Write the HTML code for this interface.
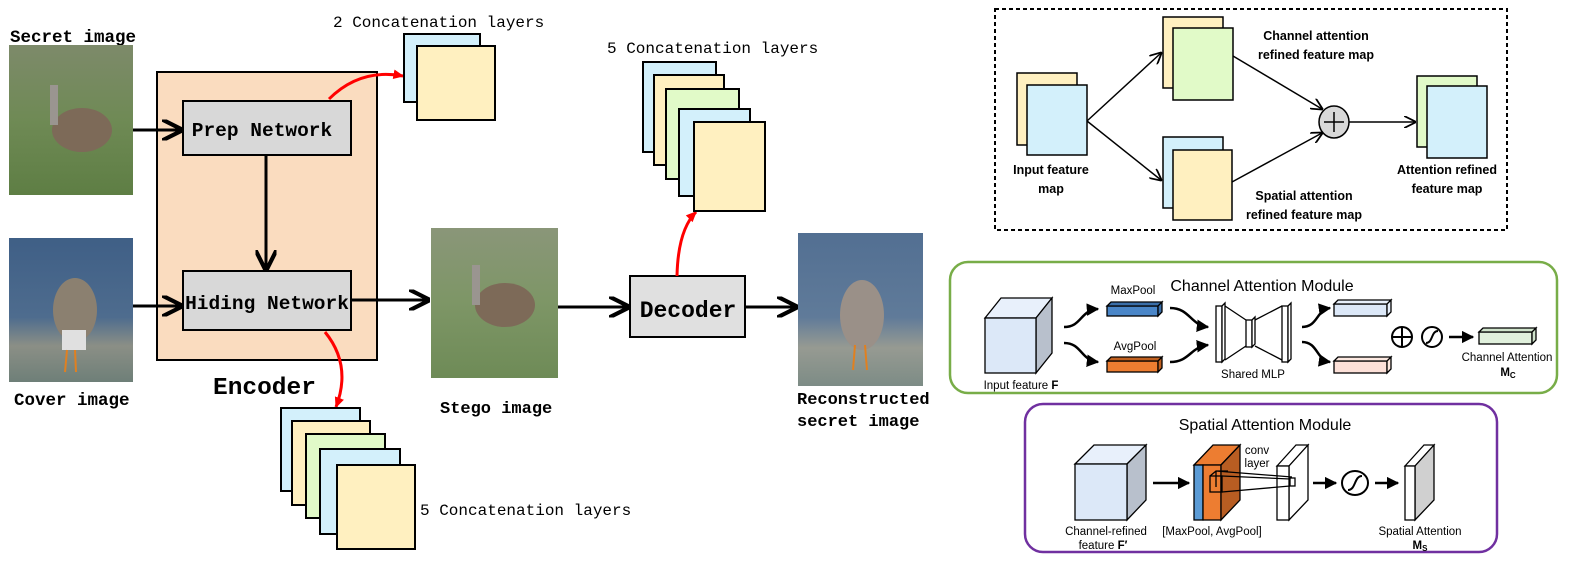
<!DOCTYPE html>
<html><head><meta charset="utf-8"><style>
body{margin:0;background:#fff;width:1577px;height:572px;overflow:hidden}
svg{display:block}
.m{font-family:"Liberation Mono",monospace}
.s{font-family:"Liberation Sans",sans-serif}
</style></head><body>
<svg width="1577" height="572" viewBox="0 0 1577 572" xmlns="http://www.w3.org/2000/svg">
<defs>
<linearGradient id="grass" x1="0" y1="0" x2="0" y2="1"><stop offset="0" stop-color="#7d8a6a"/><stop offset="0.5" stop-color="#6f8a55"/><stop offset="1" stop-color="#5e7e44"/></linearGradient>
<linearGradient id="water" x1="0" y1="0" x2="0" y2="1"><stop offset="0" stop-color="#3f5f86"/><stop offset="0.55" stop-color="#4e6c8e"/><stop offset="0.75" stop-color="#8b8f86"/><stop offset="1" stop-color="#6e7f78"/></linearGradient>
<marker id="ah" viewBox="0 0 10 10" refX="9" refY="5" markerWidth="7" markerHeight="7" orient="auto"><path d="M0,0 L10,5 L0,10" fill="none" stroke="#000" stroke-width="2"/></marker>
<marker id="ar" viewBox="0 0 10 10" refX="8" refY="5" markerWidth="4" markerHeight="4" orient="auto"><path d="M0,1 L9,5 L0,9z" fill="red"/></marker>
<marker id="as" viewBox="0 0 10 10" refX="9" refY="5" markerWidth="8" markerHeight="8" orient="auto"><path d="M0,0 L10,5 L0,10" fill="none" stroke="#000" stroke-width="1.5"/></marker>
<marker id="af" viewBox="0 0 10 10" refX="9" refY="5" markerWidth="5" markerHeight="5" orient="auto"><path d="M0,0 L10,5 L0,10z" fill="#000"/></marker>
</defs>

<!-- photos -->
<text class="m" x="10" y="42" font-size="17.5" font-weight="bold">Secret image</text>
<rect x="9" y="45" width="124" height="150" fill="url(#grass)"/>
<ellipse cx="82" cy="130" rx="30" ry="22" fill="#7d6a58"/><rect x="50" y="85" width="8" height="40" fill="#9a9590"/>
<text class="m" x="14" y="405" font-size="17.5" font-weight="bold">Cover image</text>
<rect x="9" y="238" width="124" height="144" fill="url(#water)"/>
<ellipse cx="75" cy="310" rx="22" ry="32" fill="#8b8070"/><rect x="62" y="330" width="24" height="20" fill="#e0e0e0"/>
<path d="M67 350 L65 372 M75 350 L76 372" stroke="#e08020" stroke-width="2"/>
<rect x="431" y="228" width="127" height="150" fill="url(#grass)" opacity="0.9"/>
<ellipse cx="505" cy="305" rx="30" ry="22" fill="#7d6a58"/><rect x="472" y="265" width="8" height="40" fill="#9a9590"/>
<text class="m" x="440" y="413" font-size="17" font-weight="bold">Stego image</text>
<rect x="798" y="233" width="125" height="153" fill="url(#water)" opacity="0.9"/>
<ellipse cx="862" cy="315" rx="22" ry="35" fill="#9a9088"/><path d="M855 345 L853 370 M865 345 L867 370" stroke="#e08020" stroke-width="2"/>
<text class="m" x="797" y="404" font-size="17" font-weight="bold">Reconstructed</text>
<text class="m" x="797" y="426" font-size="17" font-weight="bold">secret image</text>

<!-- encoder -->
<rect x="157" y="72" width="220" height="288" fill="#fadcbf" stroke="#000" stroke-width="2"/>
<text class="m" x="213" y="394" font-size="24.5" font-weight="bold">Encoder</text>
<rect x="183" y="101" width="168" height="54" fill="#d8d8d8" stroke="#000" stroke-width="2"/>
<text class="m" x="262" y="136" font-size="19.5" font-weight="bold" text-anchor="middle">Prep Network</text>
<rect x="183" y="271" width="168" height="59" fill="#d8d8d8" stroke="#000" stroke-width="2"/>
<text class="m" x="267" y="309" font-size="19.5" font-weight="bold" text-anchor="middle">Hiding Network</text>
<g stroke="#000" stroke-width="3" fill="none">
<line x1="133" y1="130" x2="181" y2="130" marker-end="url(#ah)"/>
<line x1="133" y1="306" x2="181" y2="306" marker-end="url(#ah)"/>
<line x1="266" y1="155" x2="266" y2="269" marker-end="url(#ah)"/>
<line x1="351" y1="300" x2="428" y2="300" marker-end="url(#ah)"/>
<line x1="558" y1="307" x2="628" y2="307" marker-end="url(#ah)"/>
<line x1="745" y1="307" x2="796" y2="307" marker-end="url(#ah)"/>
</g>
<rect x="630" y="276" width="115" height="61" fill="#e0e0e0" stroke="#000" stroke-width="2"/>
<text class="m" x="688" y="317" font-size="23" font-weight="bold" text-anchor="middle">Decoder</text>

<!-- red arrows -->
<g stroke="red" stroke-width="3" fill="none">
<path d="M329 99 Q360 68 403 76" marker-end="url(#ar)"/>
<path d="M325 332 Q352 365 336 407" marker-end="url(#ar)"/>
<path d="M677 276 Q678 230 696 212" marker-end="url(#ar)"/>
</g>

<!-- stacks -->
<g stroke="#000" stroke-width="2">
<rect x="404" y="34" width="76" height="68" fill="#d3f0fb"/>
<rect x="417" y="46" width="78" height="74" fill="#fff0c0"/>
<rect x="281" y="408" width="79" height="83" fill="#d3f0fb"/>
<rect x="292" y="421" width="78" height="84" fill="#fff0c0"/>
<rect x="306" y="434" width="79" height="84" fill="#e1fac8"/>
<rect x="320" y="449" width="80" height="85" fill="#d3f0fb"/>
<rect x="337" y="465" width="78" height="84" fill="#fff0c0"/>
<rect x="643" y="62" width="73" height="90" fill="#d3f0fb"/>
<rect x="654" y="75" width="70" height="90" fill="#fff0c0"/>
<rect x="666" y="89" width="73" height="90" fill="#e1fac8"/>
<rect x="679" y="109" width="71" height="87" fill="#d3f0fb"/>
<rect x="694" y="122" width="71" height="89" fill="#fff0c0"/>
</g>
<text class="m" x="333" y="27" font-size="16">2 Concatenation layers</text>
<text class="m" x="420" y="515" font-size="16">5 Concatenation layers</text>
<text class="m" x="607" y="53" font-size="16">5 Concatenation layers</text>

<!-- dashed box -->
<rect x="995" y="9" width="512" height="221" fill="none" stroke="#000" stroke-width="2" stroke-dasharray="4,3"/>
<g stroke="#000" stroke-width="1.5">
<rect x="1017" y="73" width="60" height="72" fill="#fff0c0"/>
<rect x="1027" y="85" width="60" height="70" fill="#d3f0fb"/>
<rect x="1163" y="17" width="60" height="71" fill="#fff0c0"/>
<rect x="1173" y="28" width="60" height="72" fill="#e1fac8"/>
<rect x="1163" y="137" width="60" height="71" fill="#d3f0fb"/>
<rect x="1173" y="150" width="59" height="70" fill="#fff0c0"/>
<rect x="1417" y="76" width="60" height="71" fill="#e1fac8"/>
<rect x="1427" y="86" width="60" height="72" fill="#d3f0fb"/>
</g>
<g stroke="#000" stroke-width="1.5" fill="none">
<line x1="1087" y1="121" x2="1161" y2="53" marker-end="url(#as)"/>
<line x1="1087" y1="121" x2="1161" y2="180" marker-end="url(#as)"/>
<line x1="1233" y1="56" x2="1322" y2="109" marker-end="url(#as)"/>
<line x1="1232" y1="182" x2="1322" y2="133" marker-end="url(#as)"/>
<line x1="1349" y1="122" x2="1415" y2="122" marker-end="url(#as)"/>
</g>
<ellipse cx="1334" cy="122" rx="15" ry="16" fill="#d8d8d8" stroke="#000" stroke-width="1.5"/>
<path d="M1324 122 H1344 M1334 112 V132" stroke="#000" stroke-width="1.5"/>
<g class="s" font-size="12.5" font-weight="bold" text-anchor="middle">
<text x="1051" y="174">Input feature</text><text x="1051" y="193">map</text>
<text x="1316" y="40">Channel attention</text><text x="1316" y="59">refined feature map</text>
<text x="1304" y="200">Spatial attention</text><text x="1304" y="219">refined feature map</text>
<text x="1447" y="174">Attention refined</text><text x="1447" y="193">feature map</text>
</g>

<!-- channel attention module -->
<rect x="950" y="262" width="607" height="131" rx="18" fill="#fff" stroke="#78ad48" stroke-width="2.5"/>
<text class="s" x="1262" y="291" font-size="16" text-anchor="middle">Channel Attention Module</text>
<g stroke="#000" stroke-width="1.3">
<path d="M985 318 L1001 298 L1052 298 L1036 318z" fill="#e8f0fb"/>
<path d="M1036 318 L1052 298 L1052 353 L1036 373z" fill="#b8c0cc"/>
<rect x="985" y="318" width="51" height="55" fill="#dce8f8"/>
<rect x="1107" y="306" width="51" height="10" fill="#4a86c8"/><path d="M1158 306 L1162 302 L1162 312 L1158 316z M1107 306 L1111 302 L1162 302 L1158 306z" fill="#3a6ea8"/>
<rect x="1107" y="361" width="51" height="11" fill="#ed7d31"/><path d="M1158 361 L1162 357 L1162 368 L1158 372z M1107 361 L1111 357 L1162 357 L1158 361z" fill="#c06020"/>
<rect x="1216" y="306" width="6" height="56" fill="#fff"/><path d="M1222 306 L1225 303 L1225 359 L1222 362z" fill="#fff"/>
<rect x="1282" y="306" width="6" height="56" fill="#fff"/><path d="M1288 306 L1291 303 L1291 359 L1288 362z" fill="#fff"/>
<rect x="1246" y="320" width="6" height="27" fill="#fff"/><path d="M1252 320 L1255 317 L1255 344 L1252 347z" fill="#fff"/>
<path d="M1225 306 L1246 320 M1225 360 L1246 346 M1255 320 L1282 306 M1255 346 L1282 360" fill="none"/>
<rect x="1334" y="304" width="53" height="12" fill="#dce8f8"/><path d="M1387 304 L1391 300 L1391 312 L1387 316z M1334 304 L1338 300 L1391 300 L1387 304z" fill="#e8f0fb"/>
<rect x="1334" y="361" width="53" height="12" fill="#fce0d8"/><path d="M1387 361 L1391 357 L1391 369 L1387 373z M1334 361 L1338 357 L1391 357 L1387 361z" fill="#fce8e0"/>
<rect x="1479" y="332" width="53" height="12" fill="#e0f0dc"/><path d="M1532 332 L1536 328 L1536 340 L1532 344z M1479 332 L1483 328 L1536 328 L1532 332z" fill="#d0e4cc"/>
</g>
<g stroke="#000" stroke-width="2.5" fill="none">
<path d="M1064 327 C1082 327 1080 310 1098 309" marker-end="url(#af)"/>
<path d="M1064 343 C1082 343 1080 360 1098 362" marker-end="url(#af)"/>
<path d="M1170 308 C1190 308 1190 325 1208 327" marker-end="url(#af)"/>
<path d="M1170 362 C1190 362 1190 347 1208 345" marker-end="url(#af)"/>
<path d="M1302 327 C1318 327 1316 310 1330 308" marker-end="url(#af)"/>
<path d="M1302 342 C1318 342 1316 360 1330 362" marker-end="url(#af)"/>
<line x1="1449" y1="337" x2="1473" y2="337" marker-end="url(#af)"/>
</g>
<circle cx="1402" cy="337" r="10" fill="none" stroke="#000" stroke-width="2"/><path d="M1392 337 H1412 M1402 327 V347" stroke="#000" stroke-width="2"/>
<circle cx="1432" cy="337" r="10" fill="none" stroke="#000" stroke-width="2"/><path d="M1426 343 C1433 343 1431 331 1438 331" stroke="#000" stroke-width="2" fill="none"/>
<g class="s" font-size="11.5" text-anchor="middle">
<text x="1133" y="294">MaxPool</text><text x="1135" y="350">AvgPool</text>
<text x="1253" y="378">Shared MLP</text>
<text x="1021" y="389">Input feature <tspan font-weight="bold">F</tspan></text>
<text x="1507" y="361">Channel Attention</text>
<text x="1508" y="376" font-weight="bold">M<tspan font-size="8" dy="2">C</tspan></text>
</g>

<!-- spatial attention module -->
<rect x="1025" y="404" width="472" height="148" rx="18" fill="none" stroke="#7030a0" stroke-width="2.5"/>
<text class="s" x="1265" y="430" font-size="16" text-anchor="middle">Spatial Attention Module</text>
<g stroke="#000" stroke-width="1.3">
<path d="M1075 464 L1094 445 L1146 445 L1127 464z" fill="#e8f0fb"/>
<path d="M1127 464 L1146 445 L1146 500 L1127 520z" fill="#b8c0cc"/>
<rect x="1075" y="464" width="52" height="56" fill="#dce8f8"/>
<path d="M1194 465 L1213 445 L1240 445 L1221 465z" fill="#ed7d31"/>
<rect x="1194" y="465" width="9" height="55" fill="#5b9bd5"/>
<rect x="1203" y="465" width="18" height="55" fill="#ed7d31"/>
<path d="M1221 465 L1240 445 L1240 500 L1221 520z" fill="#b85d22"/>
<path d="M1277 466 L1296 445 L1308 445 L1289 466z" fill="#fff"/>
<path d="M1289 466 L1308 445 L1308 500 L1289 520z" fill="#fff"/>
<rect x="1277" y="466" width="12" height="54" fill="#fff"/>
<path d="M1405 466 L1424 445 L1434 445 L1415 466z" fill="#fff"/>
<path d="M1415 466 L1434 445 L1434 500 L1415 520z" fill="#d0d0d0"/>
<rect x="1405" y="466" width="10" height="54" fill="#fff"/>
<rect x="1210" y="476" width="12" height="16" fill="none"/>
<path d="M1210 476 L1216 471 L1228 471 M1216 471 L1216 487 M1222 476 L1290 479 M1222 492 L1290 486 M1216 471 L1292 477" fill="none"/>
<rect x="1290" y="478" width="5" height="8" fill="none"/>
</g>
<g stroke="#000" stroke-width="2.5" fill="none">
<line x1="1153" y1="483" x2="1189" y2="483" marker-end="url(#af)"/>
<line x1="1313" y1="483" x2="1336" y2="483" marker-end="url(#af)"/>
<line x1="1375" y1="483" x2="1398" y2="483" marker-end="url(#af)"/>
</g>
<ellipse cx="1355" cy="483" rx="13" ry="12" fill="none" stroke="#000" stroke-width="2"/>
<path d="M1348 490 C1356 490 1354 476 1362 476" stroke="#000" stroke-width="2" fill="none"/>
<g class="s" font-size="11.5" text-anchor="middle">
<text x="1106" y="535">Channel-refined</text>
<text x="1103" y="549">feature <tspan font-weight="bold">F′</tspan></text>
<text x="1212" y="535">[MaxPool, AvgPool]</text>
<text x="1257" y="454">conv</text><text x="1257" y="467">layer</text>
<text x="1420" y="535">Spatial Attention</text>
<text x="1420" y="549" font-weight="bold">M<tspan font-size="8" dy="2">S</tspan></text>
</g>
</svg>
</body></html>
